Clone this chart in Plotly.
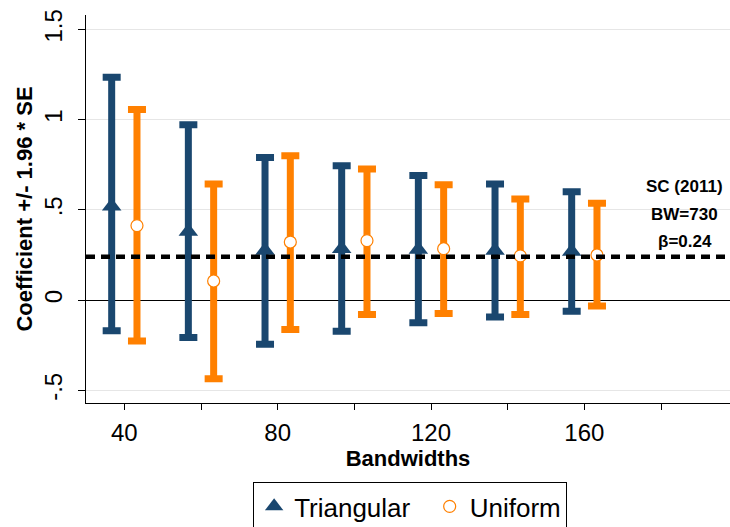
import plotly.graph_objects as go

# ---- data ----
bandwidths = [40, 60, 80, 100, 120, 140, 160]
offset = 3.3  # horizontal dodge between the two kernels

tri_coef = [0.52, 0.38, 0.275, 0.285, 0.28, 0.275, 0.27]
tri_upper = [1.235, 0.972, 0.79, 0.744, 0.691, 0.644, 0.60]
tri_lower = [-0.17, -0.207, -0.244, -0.172, -0.126, -0.093, -0.061]

uni_coef = [0.413, 0.106, 0.322, 0.33, 0.285, 0.245, 0.25]
uni_upper = [1.056, 0.644, 0.80, 0.726, 0.639, 0.561, 0.537]
uni_lower = [-0.226, -0.435, -0.163, -0.08, -0.074, -0.08, -0.033]

sc_beta = 0.24
annot_lines = ["SC (2011)", "BW=730", "\u03b2=0.24"]

x_tickvals = [40, 60, 80, 100, 120, 140, 160, 180]
x_ticktext = ["40", "", "80", "", "120", "", "160", ""]
y_tickvals = [-0.5, 0, 0.5, 1, 1.5]
y_ticktext = ["-.5", "0", ".5", "1", "1.5"]

NAVY = "#1a476f"
ORANGE = "#ff8000"
FONT = "Liberation Sans, Arial, sans-serif"

tri_x = [b - offset for b in bandwidths]
uni_x = [b + offset for b in bandwidths]

fig = go.Figure()

fig.add_trace(go.Scatter(
    x=tri_x, y=tri_coef, mode="markers", name="Triangular\u00a0\u00a0",
    marker=dict(symbol="triangle-up", size=17, color=NAVY),
    error_y=dict(type="data", symmetric=False,
                 array=[u - c for u, c in zip(tri_upper, tri_coef)],
                 arrayminus=[c - l for l, c in zip(tri_lower, tri_coef)],
                 color=NAVY, thickness=7, width=9),
))
fig.add_trace(go.Scatter(
    x=uni_x, y=uni_coef, mode="markers", name="Uniform",
    marker=dict(symbol="circle", size=12, color="white",
                line=dict(color=ORANGE, width=1.2)),
    error_y=dict(type="data", symmetric=False,
                 array=[u - c for u, c in zip(uni_upper, uni_coef)],
                 arrayminus=[c - l for l, c in zip(uni_lower, uni_coef)],
                 color=ORANGE, thickness=7, width=9),
))

fig.add_shape(type="line", xref="paper", x0=0, x1=1, yref="y", y0=sc_beta, y1=sc_beta,
              line=dict(color="black", width=4.5, dash="9px,6px"), layer="above")

for i, t in enumerate(annot_lines):
    fig.add_annotation(x=0.93, xref="paper", y=0.557 - i * 0.071, yref="paper",
                       text="<b>%s</b>" % t, showarrow=False,
                       font=dict(family=FONT, size=17, color="black"),
                       xanchor="center", yanchor="middle")

fig.update_layout(
    width=730, height=527,
    margin=dict(l=86, r=0, t=15, b=124, autoexpand=False),
    plot_bgcolor="white", paper_bgcolor="white",
    font=dict(family=FONT, color="black"),
    showlegend=True,
    legend=dict(orientation="h", x=0.503, xanchor="center", y=-0.203, yanchor="top",
                bordercolor="black", borderwidth=1.2,
                font=dict(family=FONT, size=26, color="black"),
                itemsizing="trace"),
    xaxis=dict(range=[30, 198], tickvals=x_tickvals, ticktext=x_ticktext,
               ticks="outside", ticklen=6, tickcolor="black", showgrid=False,
               showline=True, linecolor="black", linewidth=1.2, zeroline=False,
               tickfont=dict(family=FONT, size=24), ticklabelstandoff=2,
               title=dict(text="<b>Bandwidths</b>", font=dict(family=FONT, size=22),
                          standoff=5)),
    yaxis=dict(range=[-0.57, 1.58], tickvals=y_tickvals, ticktext=y_ticktext,
               tickangle=-90, ticks="outside", ticklen=7, tickcolor="black",
               showgrid=True, gridcolor="#e6e6e6", gridwidth=1,
               zeroline=True, zerolinecolor="black", zerolinewidth=1.2,
               showline=True, linecolor="black", linewidth=1.2,
               tickfont=dict(family=FONT, size=24), ticklabelstandoff=6,
               title=dict(text="<b>Coefficient +/- 1.96 * SE</b>",
                          font=dict(family=FONT, size=22), standoff=1)),
)

fig.write_html("out.html")
